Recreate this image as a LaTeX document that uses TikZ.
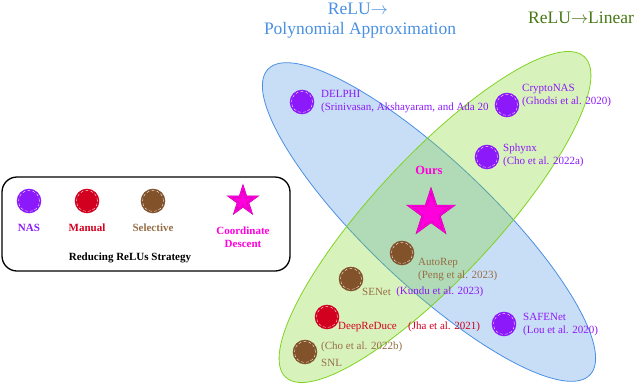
\documentclass[tikz,border=0pt]{standalone}
\usepackage{fontspec}
\setmainfont{Liberation Serif}
\usetikzlibrary{shapes.geometric, positioning}
\definecolor{nasviolet}{RGB}{140, 25, 250}
\definecolor{manualred}{RGB}{210, 0, 30}
\definecolor{selbrown}{RGB}{130, 82, 42}
\definecolor{seltext}{RGB}{150, 110, 70}
\definecolor{coordmag}{RGB}{255, 0, 220}
\definecolor{polyblue}{RGB}{74, 144, 226}
\definecolor{linegreen}{RGB}{126, 211, 33}
\definecolor{lineartext}{RGB}{70, 120, 20}

\begin{document}
\begin{tikzpicture}[
    x=1pt, y=-1pt,
    font=\fontsize{11}{13}\selectfont,
    dot/.style={circle, minimum size=21pt, inner sep=0pt, fill=#1, draw=white, densely dashed, line width=0.35pt,
        preaction={draw=#1, solid, line width=3.5pt}},
    lbl/.style={anchor=west, inner sep=0pt, align=left},
    legtxt/.style={inner sep=0pt, font=\fontsize{11}{13}\selectfont\bfseries},
    cdstar/.style={star, star points=5, star point ratio=2.6, inner sep=0pt, fill=coordmag,
        draw=coordmag!70!black, double=coordmag, double distance=1.5pt, line width=0.3pt},
    region/.style={draw=#1, thick, fill=#1, fill opacity=0.3},
    title/.style={inner sep=0pt, anchor=base, font=\fontsize{17.5}{20}\selectfont}
]
    \useasboundingbox (0,0) rectangle (640,386);

    % the two strategy regions
    \draw[region=polyblue, rotate around={-43.5:(429,222)}] (429,222) ellipse [x radius=222, y radius=62];
    \draw[region=linegreen, rotate around={47:(435,217)}] (435,217) ellipse [x radius=219, y radius=61];

    \node[title, text=polyblue] (polytitle) at (358,14.5) {ReLU$\rightarrow$};
    \node[title, text=polyblue] (polysub) at (360,34.5) {Polynomial Approximation};
    \node[title, text=lineartext] (lintitle) at (581,23.5) {ReLU$\rightarrow$Linear};

    % legend
    \node[draw, line width=1.3pt, rounded corners=15pt, minimum width=288pt, minimum height=94pt] (legend) at (146,224) {};
    \foreach \x/\c/\t/\n in {29/nasviolet/nasviolet/NAS, 87/manualred/manualred/Manual, 153/selbrown/seltext/Selective} {
        \node[dot=\c] (leg\n) at (\x,201) {};
        \node[legtxt, text=\t] (legtxt\n) at (\x,228) {\n};
    }
    \node[cdstar, minimum size=28pt] (legstar) at (243,201) {};
    \node[legtxt, text=coordmag, align=center] (legstartxt) at (243,237) {Coordinate\\Descent};
    \node[legtxt] (legtitle) at (130,258) {Reducing ReLUs Strategy};

    % methods
    \node[dot=nasviolet] (delphi) at (302,102) {};
    \node[lbl, text=nasviolet] (delphitxt) at (321,102) {DELPHI\\(Srinivasan, Akshayaram, and Ada 20};
    \node[dot=nasviolet] (cryptonas) at (507,105) {};
    \node[lbl, text=nasviolet] (cryptonastxt) at (522,96) {CryptoNAS\\(Ghodsi et al. 2020)};
    \node[dot=nasviolet] (sphynx) at (487,157) {};
    \node[lbl, text=nasviolet] (sphynxtxt) at (503,155) {Sphynx\\(Cho et al. 2022a)};

    \node[inner sep=0pt, font=\fontsize{12.5}{14}\selectfont\bfseries, text=coordmag] (ours) at (429,170) {Ours};
    \node[cdstar, minimum size=46pt] (oursstar) at (431,213) {};

    \node[dot=selbrown] (autorep) at (402,253) {};
    \node[lbl, text=seltext] (autoreptxt) at (418,270) {AutoRep\\(Peng et al. 2023)};
    \node[dot=selbrown] (senet) at (351,279) {};
    \node[lbl, text=seltext] (senettxt) at (362,292) {SENet};
    \node[lbl, text=nasviolet, right=5pt of senettxt] (senetref) {(Kundu et al. 2023)};
    \node[dot=manualred] (deepreduce) at (327,317) {};
    \node[lbl, text=manualred] (deepreducetxt) at (338,327) {DeepReDuce};
    \node[lbl, text=manualred, right=11pt of deepreducetxt] (deepreduceref) {(Jha et al. 2021)};
    \node[dot=selbrown] (snl) at (305,352) {};
    \node[lbl, text=seltext] (snlref) at (321,347) {(Cho et al. 2022b)};
    \node[lbl, text=seltext] (snltxt) at (321,363) {SNL};
    \node[dot=nasviolet] (safenet) at (504,324) {};
    \node[lbl, text=nasviolet] (safenettxt) at (523,325) {SAFENet\\(Lou et al. 2020)};
\end{tikzpicture}
\end{document}
